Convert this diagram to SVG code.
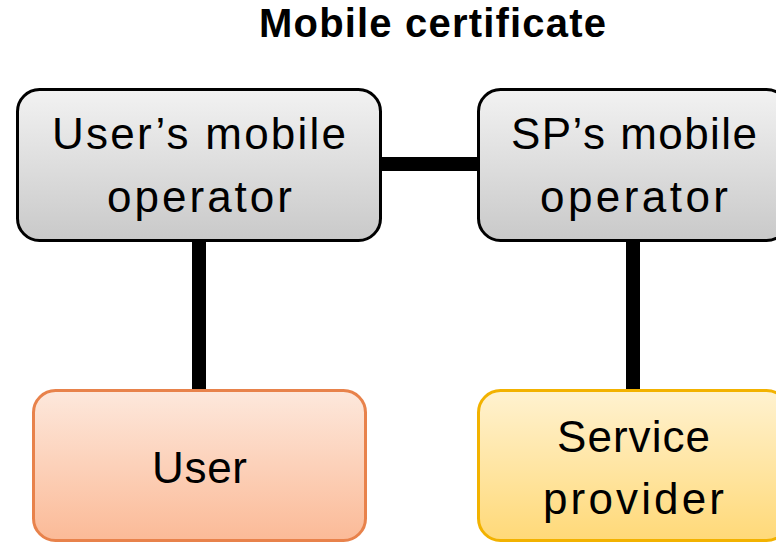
<svg xmlns="http://www.w3.org/2000/svg" width="776" height="545" viewBox="0 0 776 545">
<defs>
<linearGradient id="gGray" x1="0" y1="0" x2="0" y2="1"><stop offset="0" stop-color="#f2f2f2"/><stop offset="1" stop-color="#c9c9c9"/></linearGradient>
<linearGradient id="gOrange" x1="0" y1="0" x2="0" y2="1"><stop offset="0" stop-color="#fde8dc"/><stop offset="1" stop-color="#fbba97"/></linearGradient>
<linearGradient id="gYellow" x1="0" y1="0" x2="0" y2="1"><stop offset="0" stop-color="#fff2d0"/><stop offset="1" stop-color="#ffd978"/></linearGradient>
</defs>
<style>
text{font-family:"Liberation Sans",Arial,sans-serif;fill:#000;text-anchor:middle}
.lbl{font-size:44px}
.title{font-size:40px;font-weight:bold}
.conn{stroke:#000;stroke-width:14;fill:none}
</style>
<text class="title" x="432.5" y="37" textLength="347" lengthAdjust="spacing">Mobile certificate</text>
<g id="connectors">
<line class="conn" x1="381" y1="164" x2="478" y2="164"/>
<line class="conn" x1="199" y1="241" x2="199" y2="390"/>
<line class="conn" x1="633" y1="241" x2="633" y2="390"/>
</g>
<g id="users-operator">
<rect x="17.5" y="89.5" width="363" height="151" rx="22" fill="url(#gGray)" stroke="#000" stroke-width="3"/>
<text class="lbl" x="199" y="149" textLength="294" lengthAdjust="spacing">User’s mobile</text>
<text class="lbl" x="199.5" y="212" textLength="185" lengthAdjust="spacing">operator</text>
</g>
<g id="sps-operator">
<rect x="478.5" y="89.5" width="310" height="151" rx="22" fill="url(#gGray)" stroke="#000" stroke-width="3"/>
<text class="lbl" x="634" y="149" textLength="246" lengthAdjust="spacing">SP’s mobile</text>
<text class="lbl" x="634" y="212" textLength="188" lengthAdjust="spacing">operator</text>
</g>
<g id="user">
<rect x="33.5" y="390.5" width="332" height="150" rx="22" fill="url(#gOrange)" stroke="#e8824b" stroke-width="3"/>
<text class="lbl" x="199.5" y="483" textLength="95" lengthAdjust="spacing">User</text>
</g>
<g id="service-provider">
<rect x="478.5" y="390.5" width="310" height="150" rx="22" fill="url(#gYellow)" stroke="#f2b200" stroke-width="3"/>
<text class="lbl" x="633.5" y="452" textLength="153" lengthAdjust="spacing">Service</text>
<text class="lbl" x="633.5" y="514" textLength="181" lengthAdjust="spacing">provider</text>
</g>
</svg>
